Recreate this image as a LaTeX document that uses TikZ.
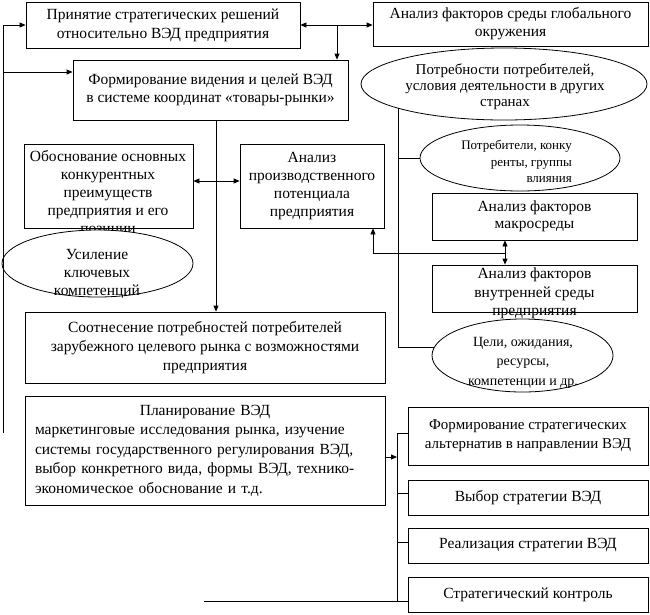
\documentclass[tikz,border=0pt]{standalone}
\usepackage{fontspec}
\setmainfont{Liberation Serif}
\usetikzlibrary{arrows.meta,shapes.geometric}
\begin{document}
\begin{tikzpicture}[x=1pt,y=-1pt,
  bx/.style={draw,line width=0.8pt,fill=white,inner sep=2pt,align=center,font=\fontsize{15.5}{19}\selectfont},
  el/.style={draw,ellipse,line width=0.8pt,fill=white,inner sep=0pt},
  tx/.style={inner sep=0pt,align=center,font=\fontsize{15.5}{18}\selectfont},
  ln/.style={line width=0.8pt},
  ar/.style={line width=0.8pt,-{Triangle[length=6pt,width=5pt]}},
  da/.style={line width=0.8pt,{Triangle[length=6pt,width=5pt]}-{Triangle[length=6pt,width=5pt]}}]
\useasboundingbox (0,0) rectangle (650,614);
% top row
\node[bx,minimum width=274pt,minimum height=46pt] (dec) at (163,25) {Принятие стратегических решений\\относительно ВЭД предприятия};
\node[bx,minimum width=275pt,minimum height=44pt,font=\fontsize{15.5}{18}\selectfont] (glob) at (510.5,24) {Анализ факторов среды глобального\\окружения};
\node[bx,minimum width=275pt,minimum height=60pt,font=\fontsize{15.5}{17.5}\selectfont] (vis) at (210.5,90) {Формирование видения и целей ВЭД\\в системе координат «товары-рынки»};
\node[el,minimum width=286pt,minimum height=72pt] (need) at (504,84) {};
\node[tx,font=\fontsize{15}{16}\selectfont] (needt) at (505,87) {Потребности потребителей,\\условия деятельности в других\\странах};
% middle
\node[bx,minimum width=169pt,minimum height=84pt] (comp) at (108.5,186) {};
\node[tx] (compt) at (108,193.5) {Обоснование основных\\конкурентных\\преимуществ\\предприятия и его\\позиции};
\node[el,minimum width=191pt,minimum height=67pt] (core) at (97.5,263.5) {};
\node[tx] (coret) at (97,274) {Усиление\\ключевых\\компетенций};
\node[bx,minimum width=144pt,minimum height=84pt,font=\fontsize{15.5}{18}\selectfont] (prod) at (312,186) {Анализ\\производственного\\потенциала\\предприятия};
\node[el,minimum width=200pt,minimum height=66pt] (cons) at (520,158) {};
\node[tx,align=right,font=\fontsize{13}{16.5}\selectfont,anchor=east] (const) at (572,161.5) {Потребители, конку\\ренты, группы\\влияния};
\node[bx,minimum width=205pt,minimum height=47pt,font=\fontsize{15.5}{17}\selectfont] (macro) at (534.5,216.5) {Анализ факторов\\макросреды};
\node[bx,minimum width=205pt,minimum height=47pt] (inner) at (534.5,288.5) {};
\node[tx,font=\fontsize{15.5}{18.5}\selectfont] (innert) at (534.5,293.5) {Анализ факторов\\внутренней среды\\предприятия};
\node[el,minimum width=181pt,minimum height=73pt] (goal) at (522.5,355.5) {};
\node[tx,font=\fontsize{14}{19.5}\selectfont] (goalt) at (523,362.5) {Цели, ожидания,\\ресурсы,\\компетенции и др.};
\node[bx,minimum width=360pt,minimum height=71pt] (match) at (205,347.5) {Соотнесение потребностей потребителей\\зарубежного целевого рынка с возможностями\\предприятия};
% planning
\node[bx,minimum width=360pt,minimum height=109pt,align=left,text width=340pt,inner sep=0pt,font=\fontsize{15.5}{19.5}\selectfont] (plan) at (205,450.5) {\makebox[340pt]{Планирование ВЭД}\\маркетинговые исследования рынка, изучение\\системы государственного регулирования ВЭД,\\выбор конкретного вида, формы ВЭД, технико-\\экономическое обоснование и т.д.};
% right column
\node[bx,minimum width=240pt,minimum height=58pt,font=\fontsize{15}{19}\selectfont] (alt) at (528,436) {Формирование стратегических\\альтернатив в направлении ВЭД};
\node[bx,minimum width=240pt,minimum height=35pt,font=\fontsize{15.5}{19}\selectfont] (choice) at (528,497.5) {Выбор стратегии ВЭД};
\node[bx,minimum width=240pt,minimum height=35pt,font=\fontsize{15.5}{19}\selectfont] (impl) at (528,545.5) {Реализация стратегии ВЭД};
\node[bx,minimum width=240pt,minimum height=35pt,font=\fontsize{15.5}{19}\selectfont] (ctrl) at (528,594.5) {Стратегический контроль};
% connectors
\coordinate (lt) at (3,25);
\coordinate (lb) at (3,433);
\coordinate (lm) at (3,72);
\draw[ar] (lb) -- (lt) -- (dec.west);
\draw[ar] (lm) -- (lm -| vis.west);
\draw[da] (dec.east) -- (dec.east -| glob.west);
\coordinate (j1) at (337,25);
\draw[ar] (j1) -- (j1 |- vis.north);
\coordinate (v1) at (216,0);
\draw[ar] (v1 |- vis.south) -- (v1 |- match.north);
\coordinate (h1) at (0,181);
\draw[da] (h1 -| comp.east) -- (h1 -| prod.west);
\draw[ln] (need.193) -- (need.193 |- goal.175) -- (goal.175);
\draw[ln] (need.193 |- cons.west) -- (cons.west);
\coordinate (k) at (505,253);
\coordinate (k2) at (373,0);
\draw[ar] (k) -- (k -| k2) -- (k2 |- prod.south);
\draw[ar] (k) -- (k |- macro.south);
\draw[ar] (k) -- (k |- inner.north);
\coordinate (p) at (397,457);
\draw[ar] (p -| plan.east) -- (p);
\coordinate (rt) at (397,433);
\coordinate (rb) at (397,601);
\coordinate (rB) at (397,493);
\coordinate (rC) at (397,542);
\coordinate (bl) at (204,601);
\draw[ln] (rt) -- (rb);
\draw[ln] (rt) -- (rt -| alt.west);
\draw[ln] (rB) -- (rB -| choice.west);
\draw[ln] (rC) -- (rC -| impl.west);
\draw[ln] (bl) -- (bl -| ctrl.west);
\end{tikzpicture}
\end{document}
